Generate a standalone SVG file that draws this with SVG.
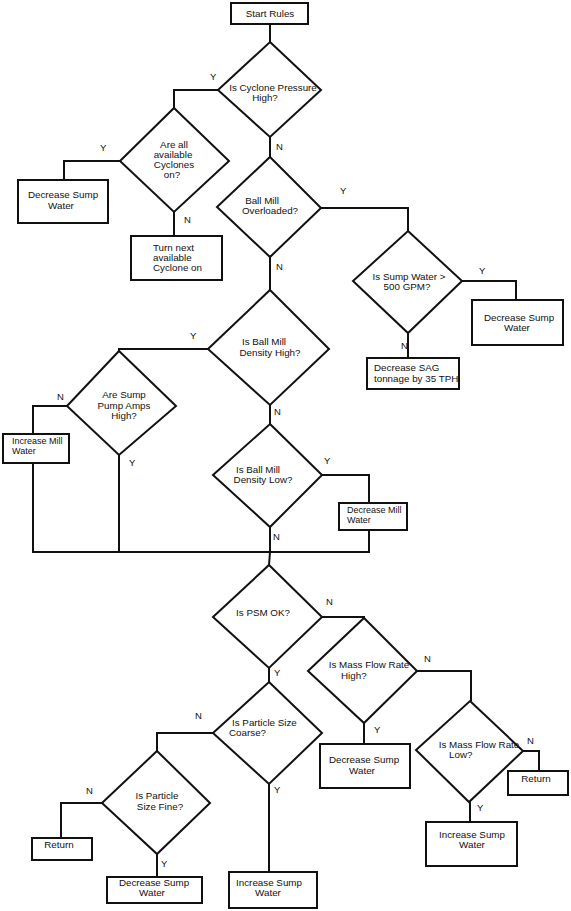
<svg xmlns="http://www.w3.org/2000/svg" width="571" height="911" viewBox="0 0 571 911">
<style>
.b{fill:#fff;stroke:#111;stroke-width:2}
.d{fill:#fff;stroke:#111;stroke-width:2;stroke-linejoin:miter}
.c{fill:none;stroke:#111;stroke-width:2}
text{font-family:"Liberation Sans",Arial,sans-serif;font-size:9.8px;fill:#111}
.m{text-anchor:middle}
.l{font-size:9.5px}
.s{font-size:9px}
</style>
<rect width="571" height="911" fill="#fff"/>
<g id="connectors">
<path class="c" d="M270,24V42"/>
<path class="c" d="M218,90H174V108"/>
<path class="c" d="M120,161H64V180"/>
<path class="c" d="M174,212V236"/>
<path class="c" d="M270,137V157"/>
<path class="c" d="M321,208H408V231"/>
<path class="c" d="M462,281H516V300"/>
<path class="c" d="M408,333V358"/>
<path class="c" d="M270,257V290"/>
<path class="c" d="M208,349H119V351"/>
<path class="c" d="M67,406H33V434"/>
<path class="c" d="M33,463V552H369V530"/>
<path class="c" d="M119,455V552"/>
<path class="c" d="M270,405V424"/>
<path class="c" d="M322,475H369V503"/>
<path class="c" d="M270,527V552L269,565"/>
<path class="c" d="M322,617H364V618"/>
<path class="c" d="M417,671H471V701"/>
<path class="c" d="M364,723V744"/>
<path class="c" d="M269,668V682"/>
<path class="c" d="M213,733H157V751"/>
<path class="c" d="M102,803H61V838"/>
<path class="c" d="M157,854V877"/>
<path class="c" d="M269,784V872"/>
<path class="c" d="M523,751H539V771"/>
<path class="c" d="M470,802V822"/>
<text class="l" x="210" y="80">Y</text>
<text class="l" x="100" y="151">Y</text>
<text class="l" x="184" y="223">N</text>
<text class="l" x="276" y="150">N</text>
<text class="l" x="276" y="270">N</text>
<text class="l" x="340" y="194">Y</text>
<text class="l" x="479" y="274">Y</text>
<text class="l" x="401" y="349">N</text>
<text class="l" x="190" y="339">Y</text>
<text class="l" x="57" y="400">N</text>
<text class="l" x="129" y="466">Y</text>
<text class="l" x="274" y="415">N</text>
<text class="l" x="324" y="464">Y</text>
<text class="l" x="273" y="540">N</text>
<text class="l" x="326" y="605">N</text>
<text class="l" x="424" y="662">N</text>
<text class="l" x="374" y="733">Y</text>
<text class="l" x="274" y="676">Y</text>
<text class="l" x="195" y="719">N</text>
<text class="l" x="86" y="794">N</text>
<text class="l" x="161" y="867">Y</text>
<text class="l" x="274" y="793">Y</text>
<text class="l" x="527" y="744">N</text>
<text class="l" x="477" y="811">Y</text>
</g>
<g id="start">
<rect class="b" x="231" y="3" width="77" height="21"/>
<text class="m" x="270" y="17">Start Rules</text>
</g>
<g id="q-cyclone-pressure">
<polygon class="d" points="270,42 321,90 270,137 218,90"/>
<text class="m" x="273" y="91">Is Cyclone Pressure</text>
<text class="m" x="265" y="101">High?</text>
</g>
<g id="q-cyclones-on">
<polygon class="d" points="174,108 229,161 174,212 120,161"/>
<text class="m" x="174" y="148">Are all</text>
<text class="m" x="173" y="158">available</text>
<text class="m" x="174" y="168">Cyclones</text>
<text class="m" x="172" y="178">on?</text>
</g>
<g id="decrease-sump-1">
<rect class="b" x="18" y="180" width="90" height="43"/>
<text class="m" x="63" y="198">Decrease Sump</text>
<text class="m" x="61" y="209">Water</text>
</g>
<g id="turn-next-cyclone">
<rect class="b" x="131" y="236" width="91" height="44"/>
<text x="153" y="251">Turn next</text>
<text x="153" y="261">available</text>
<text x="153" y="271">Cyclone on</text>
</g>
<g id="q-ball-mill-overloaded">
<polygon class="d" points="270,157 321,208 270,257 217,207"/>
<text class="m" x="262" y="204">Ball Mill</text>
<text class="m" x="270" y="214">Overloaded?</text>
</g>
<g id="q-sump-water-500">
<polygon class="d" points="408,231 462,281 408,333 353,281"/>
<text class="m" x="409" y="280">Is Sump Water &gt;</text>
<text class="m" x="407" y="290">500 GPM?</text>
</g>
<g id="decrease-sump-2">
<rect class="b" x="472" y="300" width="91" height="45"/>
<text class="m" x="519" y="321">Decrease Sump</text>
<text class="m" x="517" y="331">Water</text>
</g>
<g id="decrease-sag">
<rect class="b" x="367" y="358" width="92" height="31"/>
<text x="374" y="371">Decrease SAG</text>
<text x="374" y="382">tonnage by 35 TPH</text>
</g>
<g id="q-density-high">
<polygon class="d" points="270,290 329,349 270,405 208,349"/>
<text class="m" x="264" y="345">Is Ball Mill</text>
<text class="m" x="270" y="356">Density High?</text>
</g>
<g id="q-sump-pump-amps">
<polygon class="d" points="119,351 176,406 119,455 67,406"/>
<text class="m" x="124" y="398">Are Sump</text>
<text class="m" x="124" y="409">Pump Amps</text>
<text class="m" x="124" y="419">High?</text>
</g>
<g id="increase-mill-water">
<rect class="b" x="3" y="434" width="66" height="29"/>
<text class="s" x="12" y="444">Increase Mill</text>
<text class="s" x="12" y="454">Water</text>
</g>
<g id="q-density-low">
<polygon class="d" points="270,424 322,475 270,527 213,475"/>
<text class="m" x="258" y="473">Is Ball Mill</text>
<text class="m" x="263" y="483">Density Low?</text>
</g>
<g id="decrease-mill-water">
<rect class="b" x="339" y="503" width="68" height="27"/>
<text class="s" x="347" y="513">Decrease Mill</text>
<text class="s" x="347" y="523">Water</text>
</g>
<g id="q-psm-ok">
<polygon class="d" points="269,565 322,617 269,668 213,617"/>
<text class="m" x="263" y="616">Is PSM OK?</text>
</g>
<g id="q-mass-flow-high">
<polygon class="d" points="364,618 417,671 364,723 308,671"/>
<text class="m" x="369" y="668">Is Mass Flow Rate</text>
<text x="341" y="679">High?</text>
</g>
<g id="q-particle-coarse">
<polygon class="d" points="269,682 322,733 269,784 213,733"/>
<text x="232" y="726">Is Particle Size</text>
<text x="229" y="736">Coarse?</text>
</g>
<g id="decrease-sump-3">
<rect class="b" x="320" y="744" width="90" height="44"/>
<text class="m" x="364" y="763">Decrease Sump</text>
<text class="m" x="362" y="774">Water</text>
</g>
<g id="q-mass-flow-low">
<polygon class="d" points="470,701 523,751 469,802 416,750"/>
<text class="m" x="479" y="748">Is Mass Flow Rate</text>
<text x="449" y="758">Low?</text>
</g>
<g id="return-right">
<rect class="b" x="508" y="771" width="60" height="24"/>
<text class="m" x="536" y="782">Return</text>
</g>
<g id="increase-sump-right">
<rect class="b" x="426" y="822" width="91" height="44"/>
<text class="m" x="472" y="838">Increase Sump</text>
<text class="m" x="472" y="848">Water</text>
</g>
<g id="q-particle-fine">
<polygon class="d" points="157,751 210,803 157,854 102,803"/>
<text class="m" x="157" y="799">Is Particle</text>
<text class="m" x="160" y="810">Size Fine?</text>
</g>
<g id="return-left">
<rect class="b" x="32" y="838" width="60" height="22"/>
<text class="m" x="59" y="848">Return</text>
</g>
<g id="decrease-sump-4">
<rect class="b" x="107" y="877" width="95" height="26"/>
<text class="m" x="154" y="886">Decrease Sump</text>
<text class="m" x="152" y="896">Water</text>
</g>
<g id="increase-sump-bottom">
<rect class="b" x="229" y="872" width="88" height="36"/>
<text class="m" x="269" y="886">Increase Sump</text>
<text class="m" x="268" y="896">Water</text>
</g>
</svg>
